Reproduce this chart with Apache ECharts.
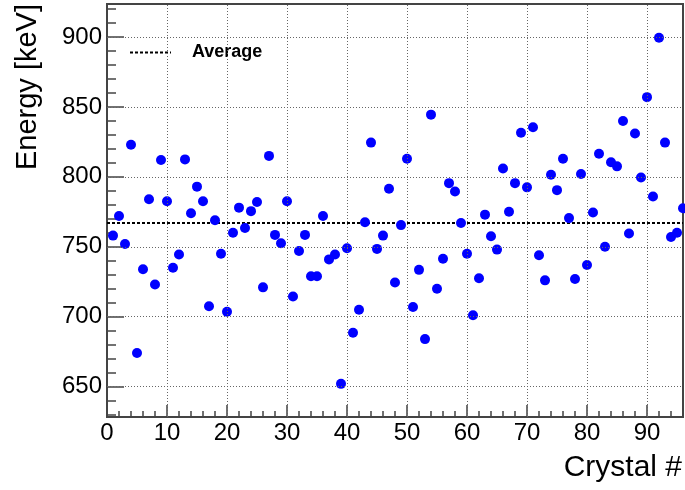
<!DOCTYPE html>
<html><head><meta charset="utf-8">
<script src="https://cdn.jsdelivr.net/npm/echarts@6/dist/echarts.min.js"></script>
<style>html,body{margin:0;padding:0;background:#fff}#c{width:685px;height:490px}</style>
</head><body><div id="c"></div>
<script>
const crystals = [1,2,3,4,5,6,7,8,9,10,11,12,13,14,15,16,17,18,19,20,21,22,23,24,25,26,27,28,29,30,31,32,33,34,35,36,37,38,39,40,41,42,43,44,45,46,47,48,49,50,51,52,53,54,55,56,57,58,59,60,61,62,63,64,65,66,67,68,69,70,71,72,73,74,75,76,77,78,79,80,81,82,83,84,85,86,87,88,89,90,91,92,93,94,95,96];
const energies = [
  758, 772, 752, 823, 674, 734, 784, 723, 812, 782.5,
  735, 744.5, 812.5, 774, 793, 782.5, 707.5, 769, 745, 703.5,
  760, 778, 763.5, 775.5, 782, 721, 815, 758.5, 752.5, 782.5,
  714.5, 747, 758.5, 729, 729, 772, 741, 744.5, 652, 749,
  688.5, 705, 767.5, 824.5, 748.5, 758, 791.5, 724.5, 765.5, 813,
  707, 733.5, 684, 844.5, 720, 741.5, 795.5, 789.5, 767, 745,
  701, 727.5, 773, 757.5, 748, 806, 775, 795.5, 831.5, 792.5,
  835.5, 744, 726, 801.5, 790.5, 813, 770.5, 727, 802, 737,
  774.5, 816.5, 750, 810.5, 807.5, 840, 759.5, 831, 799.5, 857,
  786, 899.5, 824.5, 757, 760, 777.5
];
const xTickLabels = [0,10,20,30,40,50,60,70,80,90];
const xMinorTicks = [2,4,6,8,12,14,16,18,22,24,26,28,32,34,36,38,42,44,46,48,52,54,56,58,62,64,66,68,72,74,76,78,82,84,86,88,92,94];
const yTickLabels = [650,700,750,800,850,900];
const yMinorTicks = [630,640,660,670,680,690,710,720,730,740,760,770,780,790,810,820,830,840,860,870,880,890,910,920];
const xRange = [0, 96];
const yRange = [628.3, 923.6];
const xTitle = 'Crystal #';
const yTitle = 'Energy [keV]';
const legendLabel = 'Average';

const FONT = '"Liberation Sans", Arial, Helvetica, sans-serif';
const axisCol = '#444';
const gridLineStyle = {type:[1,2], color:'#666', width:1};
const gridLines = xTickLabels.filter(v => v > xRange[0]).map(v => ({xAxis:v}))
  .concat(yTickLabels.map(v => ({yAxis:v})));

const chart = echarts.init(document.getElementById('c'), null, {renderer:'canvas'});
chart.setOption({
  animation: false,
  backgroundColor: '#fff',
  grid: {left:107, right:2, top:4, bottom:73, show:true, borderColor:axisCol, borderWidth:2, backgroundColor:'transparent'},
  xAxis: [
    {type:'value', position:'bottom', min:xRange[0], max:xRange[1],
     axisLine:{show:true, onZero:false, lineStyle:{color:axisCol, width:2}},
     axisTick:{show:true, inside:true, length:12, customValues:xTickLabels, lineStyle:{color:axisCol, width:1.5}},
     axisLabel:{customValues:xTickLabels, fontSize:24, color:'#000', fontFamily:FONT, margin:4},
     splitLine:{show:false}},
    {type:'value', position:'bottom', min:xRange[0], max:xRange[1],
     axisLine:{show:false, onZero:false},
     axisTick:{show:true, inside:true, length:6, customValues:xMinorTicks, lineStyle:{color:axisCol, width:1.5}},
     axisLabel:{show:false}, splitLine:{show:false}}
  ],
  yAxis: [
    {type:'value', position:'left', min:yRange[0], max:yRange[1],
     axisLine:{show:true, onZero:false, lineStyle:{color:axisCol, width:2}},
     axisTick:{show:true, inside:true, length:17, customValues:yTickLabels, lineStyle:{color:axisCol, width:1.5}},
     axisLabel:{customValues:yTickLabels, fontSize:24, color:'#000', fontFamily:FONT, margin:5},
     splitLine:{show:false}},
    {type:'value', position:'left', min:yRange[0], max:yRange[1],
     axisLine:{show:false, onZero:false},
     axisTick:{show:true, inside:true, length:9, customValues:yMinorTicks, lineStyle:{color:axisCol, width:1.5}},
     axisLabel:{show:false}, splitLine:{show:false}}
  ],
  series: [
    {type:'scatter', name:'grid', xAxisIndex:0, yAxisIndex:0, data:[], z:1,
     markLine:{silent:true, symbol:'none', label:{show:false}, lineStyle:gridLineStyle,
       emphasis:{disabled:true}, data:gridLines}},
    {type:'scatter', name:'energy', xAxisIndex:0, yAxisIndex:0, clip:false, z:3,
     data: crystals.map((c,i)=>[c, energies[i]]),
     symbol:'circle', symbolSize:10,
     itemStyle:{color:'#0000ff', opacity:1},
     markLine:{silent:true, symbol:'none', label:{show:false}, z:2,
       lineStyle:{color:'#000', type:[3,2], width:2},
       data:[{type:'average', valueDim:'y', name:legendLabel}]}}
  ],
  graphic: [
    {type:'line', shape:{x1:130, y1:52.5, x2:171, y2:52.5}, style:{stroke:'#000', lineWidth:2, lineDash:[3,2]}},
    {type:'text', x:192, y:52.5, style:{text:legendLabel, font:'bold 18px '+FONT, fill:'#000', align:'left', verticalAlign:'middle'}},
    {type:'text', x:28, y:4, rotation:Math.PI/2, style:{text:yTitle, font:'29px '+FONT, fill:'#000', align:'right', verticalAlign:'middle'}},
    {type:'text', x:682, y:468, style:{text:xTitle, font:'30px '+FONT, fill:'#000', align:'right', verticalAlign:'middle'}}
  ]
});
</script></body></html>
